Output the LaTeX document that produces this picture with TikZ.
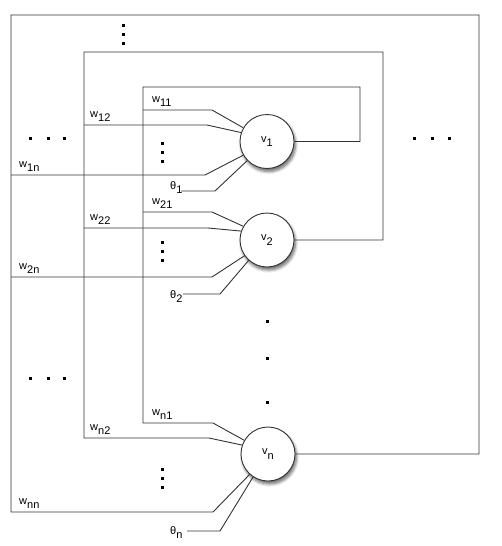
\documentclass[tikz,border=0pt]{standalone}
\usepackage{fontspec}
\setmainfont{Liberation Sans}
\usetikzlibrary{shadows.blur}
\newcommand\lowsub[2]{#1\raisebox{-0.42em}{#2}}
\begin{document}
\begin{tikzpicture}[x=1pt,y=-1pt,
  wire/.style={draw=black!80,line width=0.9pt},
  neuron/.style={circle,draw=black!80,line width=0.9pt,fill=white,minimum size=54pt,inner sep=0pt,
     font=\fontsize{11}{13}\selectfont,
     blur shadow={shadow xshift=1.5pt,shadow yshift=-3pt,shadow blur steps=6,shadow blur radius=3pt,shadow opacity=60}},
  lbl/.style={anchor=base west,inner sep=0pt,font=\fontsize{11}{13}\selectfont},
  dot/.style={fill=black,minimum size=3pt,inner sep=0pt,rectangle}]
\useasboundingbox (0,0) rectangle (501,546);
% neurons
\node[neuron] (v1) at (267,141.5) {\lowsub{v}{1}};
\node[neuron] (v2) at (267,240) {\lowsub{v}{2}};
\node[neuron] (vn) at (268,454) {\lowsub{v}{n}};
% loop coordinates
\coordinate (i1) at (360,141.5); \coordinate (i2) at (360,87); \coordinate (i3) at (143,87); \coordinate (i4) at (143,423);
\coordinate (m1) at (383,240); \coordinate (m2) at (383,52); \coordinate (m3) at (84,52); \coordinate (m4) at (84,438);
\coordinate (o1) at (479,454); \coordinate (o2) at (479,15); \coordinate (o3) at (11,15); \coordinate (o4) at (11,512);
% feedback loops
\draw[wire] (v1.east) -- (i1) -- (i2) -- (i3) -- (i4) -- (213,423) -- (vn.150);
\draw[wire] (v2.east) -- (m1) -- (m2) -- (m3) -- (m4) -- (209,438) -- (vn.161);
\draw[wire] (vn.east) -- (o1) -- (o2) -- (o3) -- (o4) -- (213,512) -- (vn.228);
% branches
\coordinate (a11) at (143,110); \coordinate (a12) at (84,125); \coordinate (a1n) at (11,175);
\coordinate (a21) at (143,212); \coordinate (a22) at (84,228); \coordinate (a2n) at (11,277);
\draw[wire] (a11) -- (212,110) -- (v1.150);
\draw[wire] (a12) -- (207,125) -- (v1.161);
\draw[wire] (a1n) -- (205,175) -- (v1.210);
\coordinate (t1) at (181,191);
\draw[wire] (t1) -- (215,191) -- (v1.224);
\draw[wire] (a21) -- (212,212) -- (v2.150);
\draw[wire] (a22) -- (208,228) -- (v2.161);
\draw[wire] (a2n) -- (212,277) -- (v2.215);
\coordinate (t2) at (183,294);
\draw[wire] (t2) -- (220,294) -- (v2.228);
\coordinate (tn) at (187,531);
\draw[wire] (tn) -- (220,531) -- (vn.237);
% labels
\node[lbl] (l11) at (152,102) {\lowsub{w}{11}};
\node[lbl] (l12) at (90,117) {\lowsub{w}{12}};
\node[lbl] (l1n) at (19,167) {\lowsub{w}{1n}};
\node[lbl] (lt1) at (170,189) {\lowsub{θ}{1}};
\node[lbl] (l21) at (152,204) {\lowsub{w}{21}};
\node[lbl] (l22) at (90,220) {\lowsub{w}{22}};
\node[lbl] (l2n) at (19,269) {\lowsub{w}{2n}};
\node[lbl] (lt2) at (170,298) {\lowsub{θ}{2}};
\node[lbl] (ln1) at (152,415) {\lowsub{w}{n1}};
\node[lbl] (ln2) at (90,430) {\lowsub{w}{n2}};
\node[lbl] (lnn) at (19,504) {\lowsub{w}{nn}};
\node[lbl] (ltn) at (170,534) {\lowsub{θ}{n}};
% dots
\foreach \p [count=\k] in {(123,25),(123,34),(123,43),
  (30,138),(48,138),(64,138),(162,143),(162,152),(162,161),
  (162,242),(162,251),(162,260),(414,138),(432,138),(449,138),
  (267,321),(267,358),(267,402),(30,378),(48,378),(64,378),
  (162,469),(162,478),(162,487)}
  \node[dot] (d\k) at \p {};
\end{tikzpicture}
\end{document}
